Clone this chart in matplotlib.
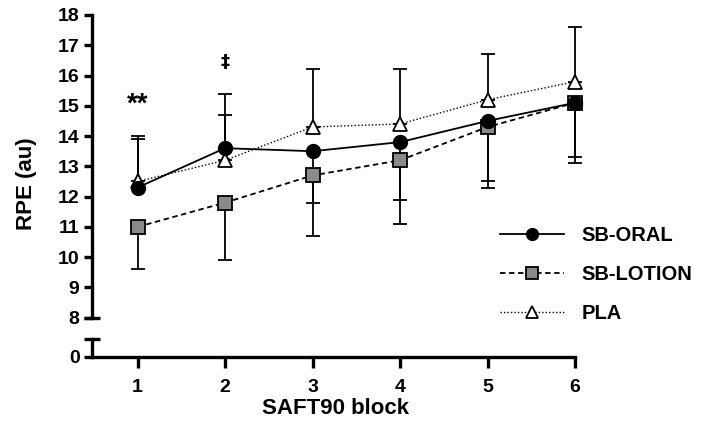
import numpy as np
import matplotlib
matplotlib.use("Agg")
import matplotlib.pyplot as plt

plt.rcParams['font.family'] = ['Liberation Sans', 'DejaVu Sans']
plt.rcParams['font.weight'] = 'bold'

# data
blocks = [1, 2, 3, 4, 5, 6]
oral = [12.3, 13.6, 13.5, 13.8, 14.5, 15.1]
oral_up = [1.6, 1.8, 0, 0, 0, 0]
oral_dn = [0, 0, 1.7, 1.9, 2.0, 1.8]
lotion = [11.0, 11.8, 12.7, 13.2, 14.3, 15.1]
lotion_up = [0, 0, 0, 0, 0, 0]
lotion_dn = [1.4, 1.9, 2.0, 2.1, 2.0, 2.0]
pla = [12.5, 13.2, 14.3, 14.4, 15.2, 15.8]
pla_up = [1.5, 1.5, 1.9, 1.8, 1.5, 1.8]
pla_dn = [0, 0, 0, 0, 0, 0]
yticks = [8, 9, 10, 11, 12, 13, 14, 15, 16, 17, 18]

W, H = 701, 432
fig = plt.figure(figsize=(W/100, H/100), dpi=100)

spw = 2.4
cap = 8/87.7
# upper part of the broken y axis (8-18)
ax = fig.add_axes([92/W, 1-317.7/H, 483/W, (317.7-15)/H])
ax.set_xlim(0.48, 6)
ax.set_ylim(8, 18)
for s in ['top', 'right', 'bottom']:
    ax.spines[s].set_visible(False)
ax.spines['left'].set_linewidth(spw)
ax.set_xticks([])
ax.set_yticks(yticks)
ax.tick_params(axis='y', length=6, width=spw, labelsize=14, pad=3)
# little cap at the break
ax.plot([0.48-cap, 0.48+cap], [8, 8], color='black', lw=spw, clip_on=False,
        solid_capstyle='butt')

# lower part (0)
ax2 = fig.add_axes([92/W, 1-356.7/H, 483/W, (356.7-339.3)/H])
ax2.set_xlim(0.48, 6)
ax2.set_ylim(0, 17.4/30.27)
for s in ['top', 'right']:
    ax2.spines[s].set_visible(False)
ax2.spines['left'].set_linewidth(spw)
ax2.spines['bottom'].set_linewidth(spw)
ax2.set_yticks([0])
ax2.set_xticks(blocks)
ax2.tick_params(axis='y', length=6, width=spw, labelsize=14, pad=3)
ax2.tick_params(axis='x', length=8, width=spw, labelsize=14, pad=8)
ax2.patch.set_alpha(0)
ax2.plot([0.48-cap, 0.48+cap], [17.4/30.27]*2, color='black', lw=spw,
         clip_on=False, solid_capstyle='butt')

eb = dict(fmt='none', ecolor='black', elinewidth=1.3, capsize=5, capthick=1.3,
          clip_on=False, zorder=2)
ax.errorbar(blocks, pla, yerr=[pla_dn, pla_up], **eb)
ax.errorbar(blocks, lotion, yerr=[lotion_dn, lotion_up], **eb)
ax.errorbar(blocks, oral, yerr=[oral_dn, oral_up], **eb)

l3, = ax.plot(blocks, pla, linestyle=(0, (1, 1.5)), color='black', lw=1.0,
              marker='^', ms=10, mfc='white', mec='black', mew=1.3,
              clip_on=False, zorder=3, label='PLA')
l2, = ax.plot(blocks, lotion, linestyle=(0, (3, 2)), color='black', lw=1.3,
              marker='s', ms=10, mfc='#8a8a8a', mec='black', mew=1.3,
              clip_on=False, zorder=4, label='SB-LOTION')
l1, = ax.plot(blocks, oral, linestyle='-', color='black', lw=1.3,
              marker='o', ms=10, mfc='black', mec='black',
              clip_on=False, zorder=5, label='SB-ORAL')

ax.text(1, 15.05, '**', ha='center', va='center', fontsize=20, fontweight='bold')
ax.text(2, 16.45, '\u2021', ha='center', va='center', fontsize=13,
        fontfamily='DejaVu Sans')

leg = fig.legend(handles=[l1, l2, l3], loc='upper left',
                 bbox_to_anchor=(500/W, 1-226/H), frameon=False, fontsize=14.5,
                 borderpad=0, borderaxespad=0,
                 handlelength=3.2, handletextpad=0.85, labelspacing=1.0,
                 markerscale=0.85)
for t in leg.get_texts():
    t.set_fontweight('bold')

fig.text(27/W, 1-184/H, 'RPE (au)', rotation=90, ha='center', va='center',
         fontsize=16, fontweight='bold')
fig.text(335/W, 1-408/H, 'SAFT90 block', ha='center', va='center',
         fontsize=16, fontweight='bold')

fig.savefig('out.png', dpi=100)
